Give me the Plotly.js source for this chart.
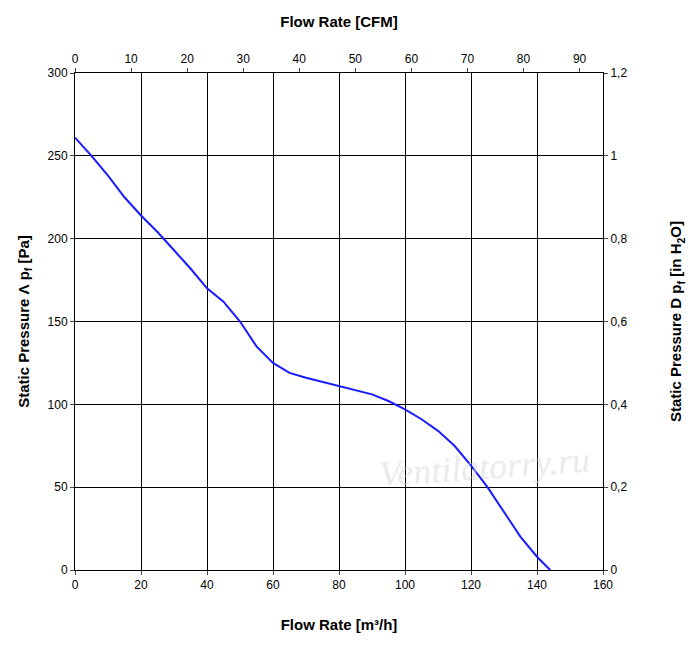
<!DOCTYPE html>
<html>
<head>
<meta charset="utf-8">
<script src="https://cdn.plot.ly/plotly-3.0.1.min.js"></script>
<style>body{margin:0;background:#fff}</style>
</head>
<body>
<div id="plot" style="width:700px;height:649px"></div>
<script>
// curve
var flow_m3h = [0, 5, 10, 15, 20, 25, 30, 35, 40, 45, 50, 55, 60, 65, 70, 80, 90, 95, 100, 105, 110, 115, 120, 125, 130, 135, 140, 144]
var pressure_pa = [261, 250, 238, 225, 214, 204, 193, 182, 170, 162, 150, 135, 125, 119, 116, 111, 106, 102, 97, 91, 84, 75, 63, 50, 35, 20, 8, 0]

var trace = {
  x: flow_m3h, y: pressure_pa, type: 'scatter', mode: 'lines',
  line: {color: '#1a1aff', width: 2}, hoverinfo: 'skip'
}
// dummy traces so the secondary axes get drawn
var top_axis = {x: [0], y: [0], xaxis: 'x2', yaxis: 'y', mode: 'markers', marker: {opacity: 0}, hoverinfo: 'skip'}
var right_axis = {x: [0], y: [0], xaxis: 'x', yaxis: 'y2', mode: 'markers', marker: {opacity: 0}, hoverinfo: 'skip'}

var axfont = {family: 'Liberation Sans, Arial', size: 12, color: '#000'}
var titlefont = {family: 'Liberation Sans, Arial', size: 15, color: '#000', weight: 'bold'}

var layout = {
  width: 700, height: 649,
  margin: {l: 75, r: 97, t: 73, b: 79},
  showlegend: false,
  separators: ', ',
  plot_bgcolor: '#fff', paper_bgcolor: '#fff',
  xaxis: {
    range: [0, 160], dtick: 20, tickfont: axfont,
    showgrid: true, gridcolor: '#000', gridwidth: 1,
    showline: true, linecolor: '#000', mirror: false,
    ticks: 'outside', ticklen: 4, zeroline: false,
    title: {text: 'Flow Rate [m³/h]', font: titlefont, standoff: 28}
  },
  xaxis2: {
    overlaying: 'x', side: 'top', range: [0, 160 / 1.699], dtick: 10,
    tickfont: axfont, showgrid: false, showline: true, linecolor: '#000',
    ticks: 'outside', ticklen: 4, zeroline: false,
    title: {text: 'Flow Rate [CFM]', font: titlefont, standoff: 20}
  },
  yaxis: {
    range: [0, 300], dtick: 50, tickfont: axfont,
    showgrid: true, gridcolor: '#000', gridwidth: 1,
    showline: true, linecolor: '#000',
    ticks: 'outside', ticklen: 4, zeroline: false,
    title: {text: 'Static Pressure Λ p<sub>f</sub> [Pa]', font: titlefont, standoff: 14}
  },
  yaxis2: {
    overlaying: 'y', side: 'right', range: [0, 1.2], dtick: 0.2,
    tickfont: axfont, showgrid: false,
    showline: true, linecolor: '#000', ticks: 'outside', ticklen: 4, zeroline: false,
    title: {text: 'Static Pressure D p<sub>f</sub> [in H<sub>2</sub>O]', font: titlefont, standoff: 44}
  },
  annotations: [{
    text: '<i>Ventilatorry.ru</i>', xref: 'x', yref: 'y', x: 124, y: 62, showarrow: false,
    font: {family: 'Liberation Serif', size: 36, color: 'rgba(215,215,215,0.5)'}, textangle: -4
  }]
}

Plotly.newPlot('plot', [trace, top_axis, right_axis], layout, {displayModeBar: false})
</script>
</body>
</html>
